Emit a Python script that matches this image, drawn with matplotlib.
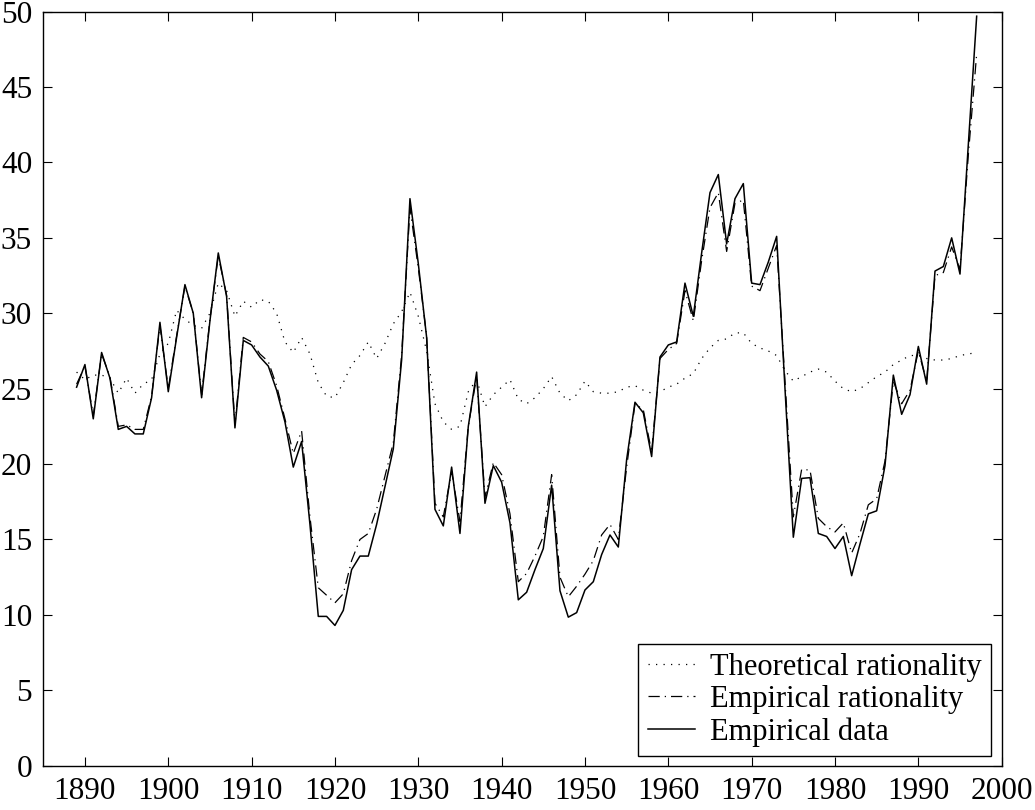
import numpy as np
import matplotlib
matplotlib.use("Agg")
import matplotlib.pyplot as plt

plt.rcParams['font.family'] = ['Liberation Serif', 'DejaVu Serif']

years = np.arange(1889, 1998)

empirical_data = [
    25.1, 26.6, 23.0, 27.4, 25.7, 22.3, 22.5, 22.0, 22.0, 24.4,   # 1889-1898
    29.4, 24.8, 28.4, 31.9, 30.0, 24.4, 29.5, 34.0, 31.1, 22.4,   # 1899-1908
    28.2, 27.9, 27.1, 26.5, 24.9, 22.8, 19.8, 21.5, 16.0, 9.9,    # 1909-1918
    9.9, 9.3, 10.3, 13.0, 13.9, 13.9, 16.0, 18.5, 21.0, 26.9,     # 1919-1928
    37.6, 33.3, 28.4, 17.0, 15.9, 19.8, 15.4, 22.5, 26.1, 17.4,   # 1929-1938
    19.9, 18.8, 16.1, 11.0, 11.5, 13.0, 14.4, 18.6, 11.6, 9.85,   # 1939-1948
    10.15, 11.65, 12.2, 14.0, 15.3, 14.5, 20.3, 24.1, 23.4, 20.5,  # 1949-1958
    27.1, 27.9, 28.1, 32.0, 29.8, 34.0, 38.0, 39.2, 34.6, 37.6,   # 1959-1968
    38.6, 32.0, 31.9, 33.4, 35.1, 25.0, 15.15, 19.05, 19.1, 15.4,  # 1969-1978
    15.2, 14.4, 15.2, 12.6, 14.7, 16.7, 16.9, 19.9, 25.9, 23.3,   # 1979-1988
    24.6, 27.8, 25.3, 32.8, 33.1, 35.0, 32.6, 41.2, 49.7,         # 1989-1997
]

empirical_rationality = [
    25.3, 26.5, 23.2, 27.3, 25.8, 22.5, 22.6, 22.3, 22.3, 24.5,
    29.2, 25.0, 28.5, 31.8, 30.0, 24.6, 29.6, 33.8, 31.2, 22.6,
    28.4, 28.1, 27.3, 26.8, 25.2, 23.0, 20.7, 22.2, 16.5, 11.8,
    11.3, 10.8, 11.4, 13.6, 15.0, 15.4, 17.0, 19.2, 21.4, 27.2,
    37.0, 33.0, 28.5, 17.4, 16.5, 19.5, 16.2, 22.5, 25.8, 17.8,
    20.1, 19.3, 16.7, 12.2, 12.75, 13.9, 15.2, 19.3, 12.5, 11.2,
    11.9, 12.7, 13.6, 15.3, 16.0, 15.0, 19.8, 24.0, 23.6, 20.8,
    27.0, 27.6, 28.0, 31.5, 29.5, 33.5, 37.0, 38.0, 34.1, 37.3,
    37.5, 31.8, 31.5, 33.0, 34.5, 25.5, 16.5, 19.65, 19.6, 16.4,
    15.85, 15.5, 16.1, 14.1, 15.4, 17.3, 17.7, 20.2, 25.5, 24.0,
    24.9, 27.5, 25.5, 32.5, 32.7, 34.4, 32.9, 40.5, 47.2,
]

theoretical_rationality = [
    26.1, 25.6, 25.9, 25.9, 25.7, 24.7, 25.7, 24.7, 25.3, 25.6,
    27.3, 28.0, 30.2, 29.6, 29.2, 29.0, 30.0, 32.0, 31.5, 29.8,
    30.8, 30.4, 30.9, 30.8, 30.0, 28.1, 27.4, 28.4, 27.3, 25.4,
    24.5, 24.4, 25.4, 26.6, 27.2, 28.1, 27.0, 28.0, 29.3, 30.1,
    31.4, 29.8, 27.5, 24.0, 22.8, 22.3, 22.5, 24.8, 25.6, 23.8,
    24.6, 25.1, 25.6, 24.3, 24.0, 24.4, 25.0, 25.8, 24.7, 24.2,
    24.6, 25.5, 24.8, 24.7, 24.7, 24.8, 25.1, 25.2, 24.9, 24.7,
    24.8, 25.1, 25.3, 25.7, 26.0, 27.0, 27.7, 28.2, 28.3, 28.7,
    28.7, 28.0, 27.7, 27.5, 27.2, 26.2, 25.5, 25.8, 26.1, 26.3,
    26.1, 25.5, 25.0, 24.8, 25.0, 25.4, 25.8, 26.1, 26.6, 26.9,
    27.2, 27.2, 27.0, 26.9, 26.9, 27.0, 27.2, 27.3, 27.4,
]

xticks = np.arange(1890, 2001, 10)
yticks = np.arange(0, 51, 5)

fig = plt.figure(figsize=(10.35, 8.1), dpi=100)
ax = fig.add_axes([0.0418, 0.0547, 0.926, 0.9309])

ax.plot(years, theoretical_rationality, color='black', lw=0.9,
        linestyle=(0, (1, 5)), label='Theoretical rationality')
ax.plot(years, empirical_rationality, color='black', lw=0.9,
        linestyle=(0, (9, 4, 1, 4)), label='Empirical rationality')
ax.plot(years, empirical_data, color='black', lw=1.1,
        linestyle='-', label='Empirical data')

ax.set_xlim(1885, 2000)
ax.set_ylim(0, 50)
ax.set_xticks(xticks)
ax.set_yticks(yticks)
ax.tick_params(direction='in', length=6.5, width=0.8, top=True, right=True,
               labelsize=22.5, pad=8)
for sp in ax.spines.values():
    sp.set_linewidth(1.0)

leg = ax.legend(loc='lower right', bbox_to_anchor=(0.989, 0.013),
                borderaxespad=0, fontsize=22, fancybox=False,
                edgecolor='black', framealpha=1, handlelength=1.55,
                handletextpad=0.5, labelspacing=0.1, borderpad=0.3)
leg.get_frame().set_linewidth(1.0)

fig.savefig('out.png', dpi=100)
